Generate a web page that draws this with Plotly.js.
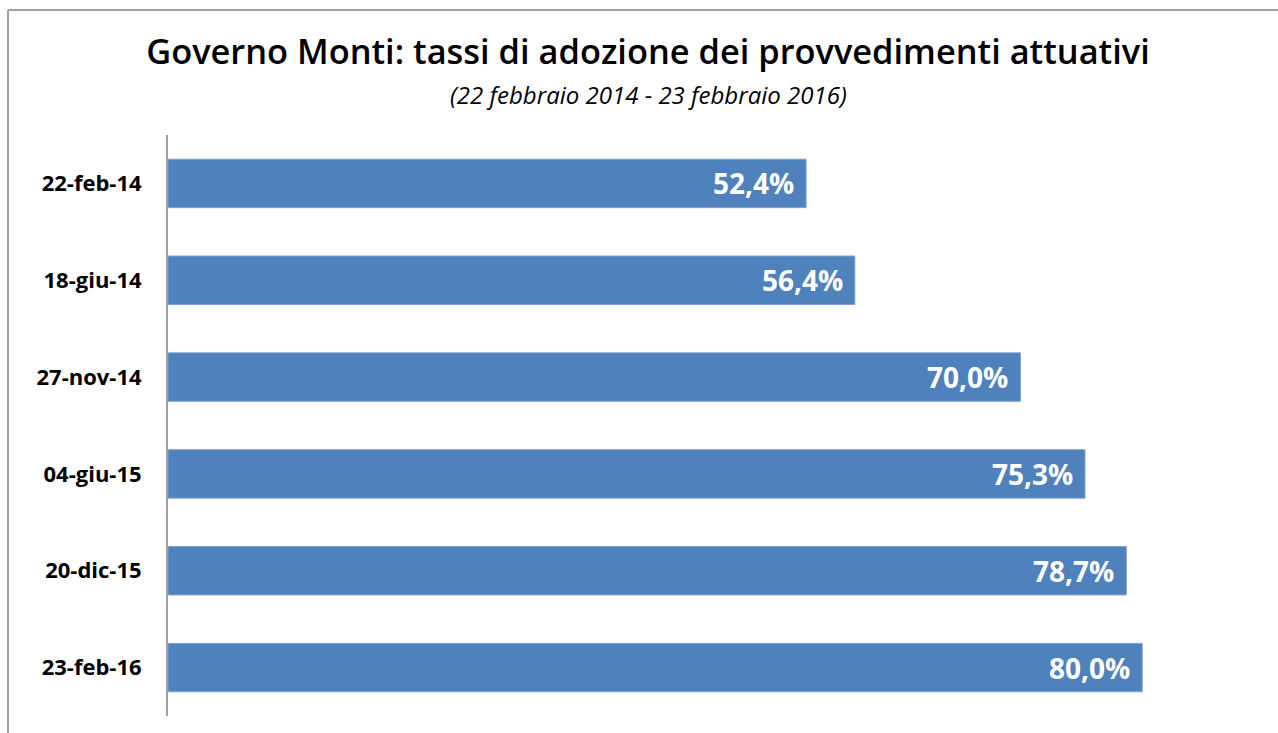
<!DOCTYPE html>
<html>
<head>
<meta charset="utf-8">
<script src="https://cdn.plot.ly/plotly-3.0.1.min.js"></script>
<style>
html,body{margin:0;padding:0;background:#fff;}
#chart{width:1278px;height:733px;}
</style>
</head>
<body>
<div id="chart"></div>
<script>
const categories = ["22-feb-14", "18-giu-14", "27-nov-14", "04-giu-15", "20-dic-15", "23-feb-16"];
const values = [52.4, 56.4, 70.0, 75.3, 78.7, 80.0];
const valueLabels = ["52,4%", "56,4%", "70,0%", "75,3%", "78,7%", "80,0%"];

const FONT = "'Open Sans', Lato, sans-serif";

const trace = {
  type: "bar",
  orientation: "h",
  y: categories,
  x: values,
  marker: {color: "#4F81BD", line: {color: "#7FA3CF", width: 1}},
  hoverinfo: "skip"
};

const labelAnnotations = categories.map((c, i) => ({
  x: values[i], y: c, xref: "x", yref: "y",
  text: valueLabels[i],
  xanchor: "right", yanchor: "middle",
  xshift: -10, yshift: 0,
  showarrow: false,
  font: {family: FONT, size: 28, color: "#ffffff", weight: "bold"}
}));

const layout = {
  width: 1278,
  height: 733,
  margin: {l: 168, r: 14, t: 135, b: 17},
  paper_bgcolor: "#ffffff",
  plot_bgcolor: "#ffffff",
  showlegend: false,
  bargap: 0.5,
  title: {
    text: "Governo Monti: tassi di adozione dei provvedimenti attuativi",
    font: {family: FONT, size: 34.4, color: "#000000", weight: 600},
    x: (648 - 168) / 1096, xanchor: "center", xref: "paper",
    y: 1 - 52/733, yanchor: "middle", yref: "container"
  },
  xaxis: {
    range: [0, 90],
    showticklabels: false,
    showgrid: false,
    zeroline: false,
    showline: false,
    ticks: ""
  },
  yaxis: {
    autorange: "reversed",
    type: "category",
    showgrid: false,
    zeroline: false,
    showline: true,
    linecolor: "#a0a0a0",
    linewidth: 2,
    ticks: "",
    ticklabelstandoff: 20,
    tickfont: {family: FONT, size: 22, color: "#000000", weight: "bold"}
  },
  annotations: [{
    text: "<i>(22 febbraio 2014 - 23 febbraio 2016)</i>",
    xref: "paper", yref: "paper",
    x: (648 - 168) / 1096, y: (716 - 95) / 581,
    xanchor: "center", yanchor: "middle",
    showarrow: false,
    font: {family: FONT, size: 24, color: "#000000"}
  }].concat(labelAnnotations),
  shapes: [
    {type: "line", xref: "paper", yref: "paper",
     x0: (8 - 168) / 1096, x1: (1278 - 168) / 1096, y0: (716 - 10) / 581, y1: (716 - 10) / 581,
     line: {color: "#a0a0a0", width: 2}},
    {type: "line", xref: "paper", yref: "paper",
     x0: (8 - 168) / 1096, x1: (8 - 168) / 1096, y0: (716 - 10) / 581, y1: (716 - 740) / 581,
     line: {color: "#a0a0a0", width: 2}}
  ]
};

Plotly.newPlot("chart", [trace], layout, {displayModeBar: false, staticPlot: true});
</script>
</body>
</html>
